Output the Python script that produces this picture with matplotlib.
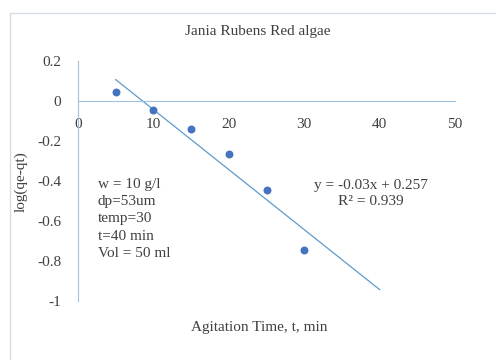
import matplotlib.pyplot as plt
from matplotlib.patches import Rectangle

# agitation time (min) vs log(qe-qt)
t_min = [5, 10, 15, 20, 25, 30]
log_q = [0.045, -0.045, -0.14, -0.265, -0.445, -0.745]

slope = -0.03
intercept = 0.257
r2 = 0.939
fit_range = [5, 40]

x_ticks = [0, 10, 20, 30, 40, 50]
y_ticks = [0.2, 0, -0.2, -0.4, -0.6, -0.8, -1]
y_labels = ["0.2", "0", "-0.2", "-0.4", "-0.6", "-0.8", "-1"]

conditions = ["w = 10 g/l", "dp=53um", "temp=30", "t=40 min", "Vol = 50 ml"]

plt.rcParams['font.family'] = ['Liberation Serif', 'DejaVu Serif']
fs = 11
txt_col = '#404040'

fig = plt.figure(figsize=(4.96, 3.6), dpi=100)
fig.patches.append(Rectangle((10 / 496, -0.1), 1.2, (360 - 13) / 360 + 0.1,
                             transform=fig.transFigure, fill=False,
                             edgecolor='#D6DCE5', linewidth=1.0))

ax = fig.add_axes([78 / 496, 59 / 360, 377 / 496, 240 / 360])
ax.set_xlim(0, 50)
ax.set_ylim(-1, 0.2)

axis_col = '#9DC3E6'
for s in ['top', 'right']:
    ax.spines[s].set_visible(False)
ax.spines['left'].set_color(axis_col)
ax.spines['bottom'].set_color(axis_col)
ax.spines['bottom'].set_position(('data', 0))

ax.set_xticks(x_ticks)
ax.set_yticks(y_ticks)
ax.set_yticklabels(y_labels)
ax.tick_params(length=0, colors=txt_col, labelsize=fs)
ax.tick_params(axis='x', pad=12)
ax.tick_params(axis='y', pad=12)

ax.scatter(t_min, log_q, s=22, color='#4472C4', zorder=3)
fit_y = [slope * x + intercept for x in fit_range]
ax.plot(fit_range, fit_y, color='#5B9BD5', linewidth=0.9)

ax.text(2.6, -0.385, "\n".join(conditions), fontsize=fs, color=txt_col,
        va='top', ha='left', linespacing=1.42)
ax.text(38.8, -0.4625, f"y = {slope:.2f}x + {intercept}\nR\u00b2 = {r2}",
        fontsize=fs, color=txt_col, ha='center', va='center', linespacing=1.34)

fig.text(258 / 496, 1 - 32 / 360, "Jania Rubens Red algae", ha='center',
         va='center', fontsize=fs, color=txt_col)
fig.text(259 / 496, 1 - 327 / 360, "Agitation Time, t, min", ha='center',
         va='center', fontsize=fs, color=txt_col)
fig.text(21 / 496, 1 - 182 / 360, "log(qe-qt)", ha='center', va='center',
         rotation=90, fontsize=fs, color=txt_col)

fig.savefig('out.png', dpi=100)
